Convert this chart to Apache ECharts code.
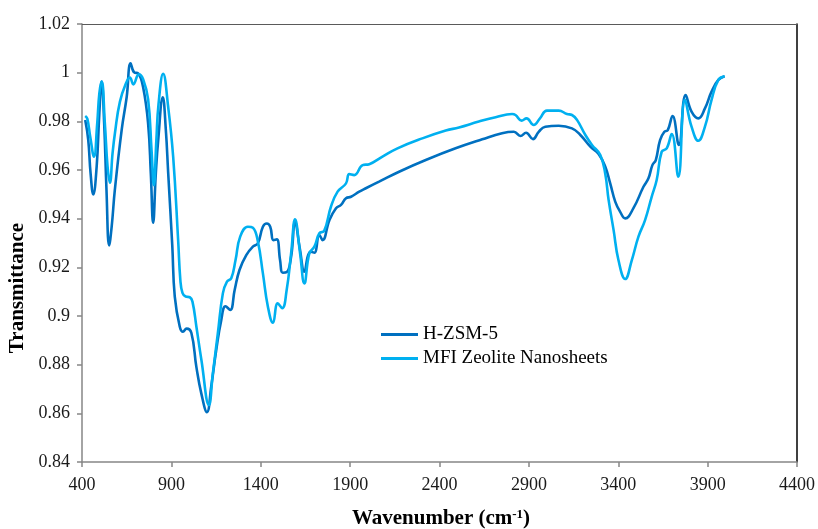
<!DOCTYPE html>
<html>
<head>
<meta charset="utf-8">
<title>FTIR spectra</title>
<script src="https://cdn.jsdelivr.net/npm/echarts@6/dist/echarts.min.js"></script>
<style>
  html, body { margin: 0; padding: 0; background: #fff; }
  #chart { width: 818px; height: 529px; }
</style>
</head>
<body>
<div id="chart"></div>
<script>
// Series names
const seriesNames = ['H-ZSM-5', 'MFI Zeolite Nanosheets'];

// H-ZSM-5 spectrum: [wavenumber (cm-1), transmittance]
const hzsm5 = [
  [418,0.9805],[435,0.9723],[448,0.9586],[463,0.950],[482,0.9614],[497,0.9833],[510,0.9963],
  [524,0.9792],[537,0.9518],[552,0.929],[566,0.9367],[584,0.952],[622,0.9765],[650,0.990],
  [672,1.0038],[692,1.0001],[714,0.9997],[742,0.994],[770,0.979],[785,0.9586],[798,0.9383],
  [813,0.9586],[826,0.972],[852,0.9899],[869,0.9765],[882,0.959],[905,0.929],[919,0.908],
  [947,0.8956],[965,0.8935],[985,0.8948],[1012,0.893],[1040,0.879],[1068,0.868],[1099,0.8605],
  [1123,0.871],[1151,0.886],[1179,0.8983],[1203,0.904],[1229,0.9025],[1254,0.9107],[1281,0.9189],
  [1319,0.925],[1356,0.9285],[1384,0.9299],[1412,0.9367],[1434,0.938],[1453,0.9367],[1471,0.9312],
  [1490,0.9315],[1508,0.923],[1523,0.9178],[1545,0.918],[1570,0.9244],[1592,0.9385],[1618,0.928],
  [1644,0.9182],[1665,0.925],[1681,0.9264],[1700,0.926],[1728,0.9333],[1746,0.9312],[1784,0.9394],
  [1821,0.9443],[1849,0.9457],[1877,0.9484],[1905,0.949],[1951,0.9511],[1988,0.9525],[2062,0.9552],
  [2174,0.9593],[2323,0.9641],[2490,0.9689],[2639,0.9726],[2750,0.9751],[2816,0.9757],[2853,0.974],
  [2884,0.9753],[2923,0.9727],[2955,0.9757],[2992,0.9778],[3067,0.9782],[3141,0.9771],[3188,0.9744],
  [3244,0.9696],[3290,0.9666],[3327,0.9614],[3355,0.9545],[3383,0.947],[3410,0.9429],[3439,0.9401],
  [3485,0.9443],[3541,0.9531],[3569,0.9566],[3591,0.962],[3610,0.9641],[3634,0.9723],[3658,0.9757],
  [3677,0.9764],[3704,0.9822],[3739,0.9703],[3777,0.9908],[3810,0.984],[3848,0.9812],[3885,0.9853],
  [3922,0.9922],[3960,0.997],[3995,0.9985]
];

// MFI zeolite nanosheet spectrum: [wavenumber (cm-1), transmittance]
const mfiNanosheets = [
  [418,0.9822],[430,0.981],[446,0.9737],[467,0.9655],[485,0.979],[497,0.9915],[510,0.9963],
  [528,0.979],[543,0.9614],[556,0.9548],[571,0.9669],[584,0.975],[612,0.988],[650,0.9963],
  [668,0.998],[687,0.9952],[718,0.9993],[742,0.9973],[770,0.989],[789,0.9682],[802,0.9538],
  [816,0.9723],[828,0.987],[854,0.9995],[882,0.986],[910,0.9655],[938,0.931],[950,0.915],
  [962,0.9095],[980,0.908],[1003,0.9077],[1018,0.9059],[1040,0.8956],[1068,0.8819],[1110,0.8634],
  [1132,0.8764],[1160,0.8929],[1188,0.9093],[1211,0.9141],[1235,0.9155],[1259,0.923],[1285,0.9326],
  [1328,0.9367],[1356,0.9363],[1384,0.9306],[1412,0.9175],[1440,0.9038],[1468,0.8972],[1495,0.9052],
  [1520,0.9032],[1545,0.9107],[1570,0.9258],[1592,0.9397],[1620,0.9258],[1644,0.9134],[1672,0.9258],
  [1700,0.9285],[1728,0.934],[1755,0.935],[1793,0.945],[1830,0.9511],[1877,0.9545],[1895,0.9583],
  [1923,0.9579],[1970,0.962],[2007,0.9624],[2081,0.9655],[2165,0.9689],[2304,0.973],[2435,0.9762],
  [2509,0.9775],[2620,0.9799],[2714,0.9817],[2806,0.983],[2825,0.9826],[2859,0.9803],[2887,0.9812],
  [2927,0.9785],[2962,0.9812],[3001,0.9844],[3067,0.9844],[3113,0.983],[3141,0.9826],[3170,0.9805],
  [3216,0.9744],[3253,0.9703],[3299,0.9662],[3327,0.9586],[3346,0.9477],[3374,0.9353],[3401,0.923],
  [3439,0.9152],[3476,0.923],[3513,0.9326],[3550,0.9394],[3587,0.949],[3615,0.9559],[3643,0.9675],
  [3671,0.9689],[3699,0.9748],[3736,0.9572],[3773,0.9888],[3810,0.9778],[3848,0.972],[3885,0.9778],
  [3922,0.9888],[3960,0.997],[3995,0.9985]
];

// Axis ticks
const xTicks = [400, 900, 1400, 1900, 2400, 2900, 3400, 3900, 4400];
const yTicks = [0.84, 0.86, 0.88, 0.9, 0.92, 0.94, 0.96, 0.98, 1, 1.02];

const SERIF = '"Liberation Serif", "Times New Roman", "DejaVu Serif", serif';
const AXIS_GREY = '#868686';
const COLORS = ['#0070C0', '#00B0F0'];

const chart = echarts.init(document.getElementById('chart'), null, { renderer: 'canvas' });

const grid = { left: 82, right: 20, top: 24, bottom: 67 };

chart.setOption({
  animation: false,
  backgroundColor: '#ffffff',
  grid: Object.assign({ containLabel: false }, grid),
  color: COLORS,
  legend: {
    orient: 'vertical',
    left: 376,
    top: 320,
    icon: 'rect',
    itemWidth: 37,
    itemHeight: 3,
    itemGap: 5,
    data: seriesNames,
    textStyle: { fontFamily: SERIF, fontSize: 19, color: '#000', lineHeight: 19 }
  },
  xAxis: [
    {
      type: 'value',
      min: xTicks[0],
      max: xTicks[xTicks.length - 1],
      position: 'bottom',
      axisLine: { show: true, lineStyle: { color: AXIS_GREY, width: 1.5 } },
      axisTick: { show: true, inside: false, length: 5, customValues: xTicks,
                  lineStyle: { color: AXIS_GREY, width: 1.5 } },
      axisLabel: { customValues: xTicks, margin: 14, fontFamily: SERIF, fontSize: 18, color: '#1a1a1a',
                   formatter: v => String(Math.round(v)) },
      splitLine: { show: false }
    },
    {
      type: 'value',
      min: xTicks[0],
      max: xTicks[xTicks.length - 1],
      position: 'top',
      axisLine: { show: true, onZero: false, lineStyle: { color: '#5a5a5a', width: 1.2 } },
      axisTick: { show: false },
      axisLabel: { show: false },
      splitLine: { show: false }
    }
  ],
  yAxis: [
    {
      type: 'value',
      min: yTicks[0],
      max: yTicks[yTicks.length - 1],
      position: 'left',
      axisLine: { show: true, lineStyle: { color: AXIS_GREY, width: 1.5 } },
      axisTick: { show: true, inside: false, length: 5, customValues: yTicks,
                  lineStyle: { color: AXIS_GREY, width: 1.5 } },
      axisLabel: { customValues: yTicks, margin: 12, fontFamily: SERIF, fontSize: 18, color: '#1a1a1a',
                   formatter: v => String(Math.round(v * 100) / 100) },
      splitLine: { show: false }
    },
    {
      type: 'value',
      min: yTicks[0],
      max: yTicks[yTicks.length - 1],
      position: 'right',
      axisLine: { show: true, onZero: false, lineStyle: { color: '#000', width: 1.5 } },
      axisTick: { show: false },
      axisLabel: { show: false },
      splitLine: { show: false }
    }
  ],
  series: [
    {
      name: seriesNames[0],
      type: 'line',
      data: hzsm5,
      xAxisIndex: 0,
      yAxisIndex: 0,
      showSymbol: false,
      symbol: 'none',
      smooth: 0.45,
      lineStyle: { color: COLORS[0], width: 2.6 },
      z: 2
    },
    {
      name: seriesNames[1],
      type: 'line',
      data: mfiNanosheets,
      xAxisIndex: 0,
      yAxisIndex: 0,
      showSymbol: false,
      symbol: 'none',
      smooth: 0.45,
      lineStyle: { color: COLORS[1], width: 2.6 },
      z: 3
    }
  ],
  graphic: [
    {
      type: 'text',
      x: 18,
      y: 288,
      rotation: Math.PI / 2,
      style: {
        text: 'Transmittance',
        fontFamily: SERIF,
        fontWeight: 'bold',
        fontSize: 21,
        fill: '#000',
        align: 'center',
        verticalAlign: 'middle'
      }
    },
    {
      type: 'text',
      x: 441,
      y: 519,
      style: {
        text: '{t|Wavenumber (cm}{s|-1}{t|)}',
        align: 'center',
        verticalAlign: 'middle',
        rich: {
          t: { fontFamily: SERIF, fontWeight: 'bold', fontSize: 21, fill: '#000' },
          s: { fontFamily: SERIF, fontWeight: 'bold', fontSize: 13, fill: '#000', padding: [0, 0, 9, 0] }
        }
      }
    }
  ]
});
</script>
</body>
</html>
